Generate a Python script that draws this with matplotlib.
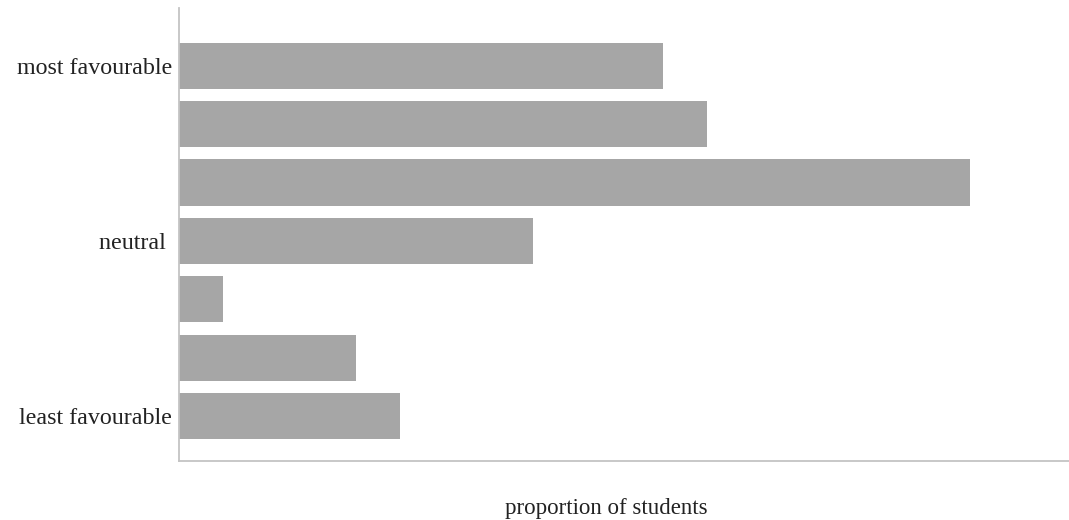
import matplotlib
matplotlib.use("Agg")
import matplotlib.pyplot as plt

# data (bottom to top)
categories = ["least favourable", "", "", "neutral ", "", "", "most favourable"]
proportions = [0.085, 0.068, 0.017, 0.136, 0.304, 0.203, 0.186]
xlabel = "proportion of students"

plt.rcParams['font.family'] = ['Liberation Serif', 'DejaVu Serif']

fig = plt.figure(figsize=(10.69, 5.2), dpi=100)
ax = fig.add_axes([179/1069, 1 - 461/520, 1 - 179/1069, (461 - 8)/520])

ypos = list(range(len(categories)))
ax.barh(ypos, proportions, height=0.79, color='#a6a6a6', edgecolor='none')

ax.set_ylim(-0.77, 6.99)
ax.set_xlim(0, 0.342)
ax.set_yticks(ypos)
ax.set_yticklabels(categories, fontsize=17.3, color='#222222')
ax.set_xticks([])
ax.tick_params(axis='y', length=0, pad=5)

for s in ['top', 'right']:
    ax.spines[s].set_visible(False)
for s in ['left', 'bottom']:
    ax.spines[s].set_color('#c4c4c4')
    ax.spines[s].set_linewidth(1.3)

fig.text(606/1069, 6/520, xlabel, ha='center', va='baseline', fontsize=16.5, color='#222222')

fig.savefig("out.png", dpi=100, facecolor='white')
